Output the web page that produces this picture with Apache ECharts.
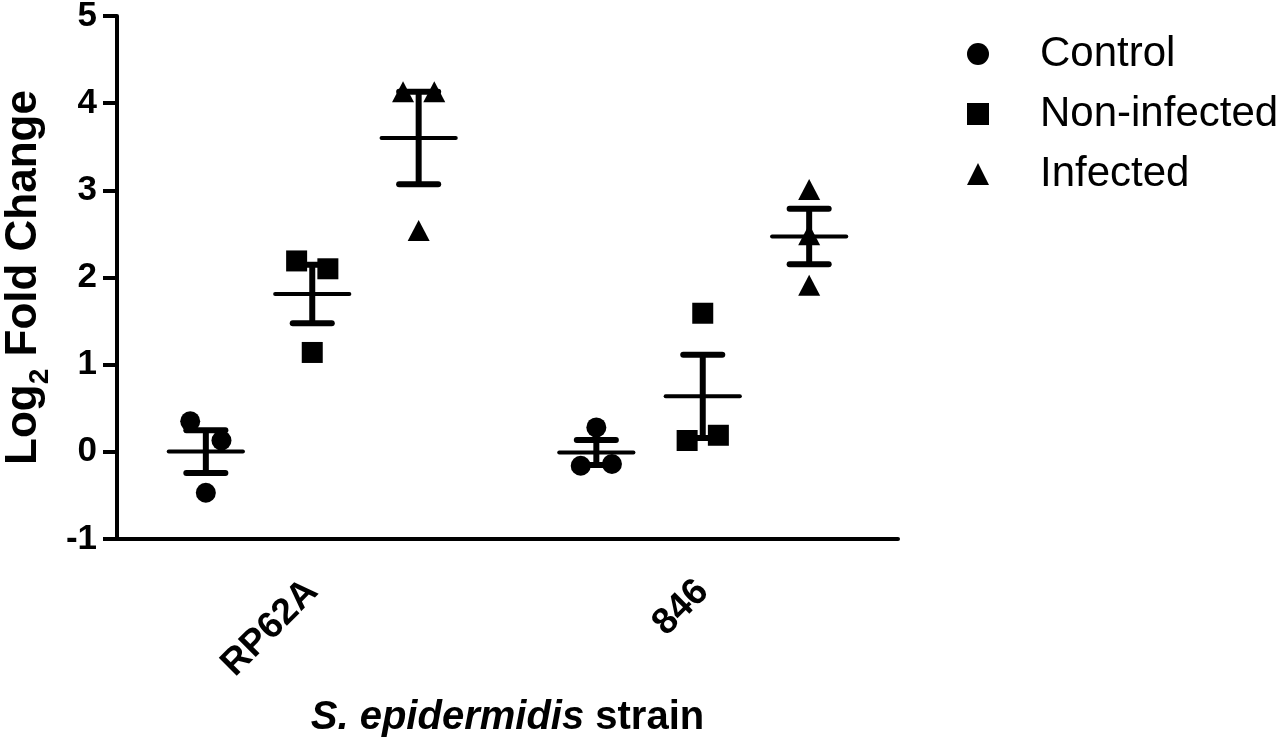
<!DOCTYPE html>
<html><head><meta charset="utf-8">
<script src="https://cdn.jsdelivr.net/npm/echarts@6/dist/echarts.min.js"></script>
<style>html,body{margin:0;padding:0;background:#fff}#c{width:1280px;height:743px}</style>
</head><body><div id="c"></div>
<script>
// ---- data ----
const categories = ['RP62A', '846'];
const groupNames = ['Control', 'Non-infected', 'Infected'];
const controlValues = [[0.35, 0.13, -0.47], [-0.16, 0.28, -0.14]];
const nonInfectedValues = [[2.19, 2.10, 1.14], [0.13, 1.59, 0.19]];
const infectedValues = [[4.13, 4.13, 2.54], [3.01, 2.49, 1.91]];
const controlJitter = [[-0.08, 0.08, 0], [-0.08, 0, 0.08]];
const nonInfectedJitter = [[-0.08, 0.08, 0], [-0.08, 0, 0.08]];
const infectedJitter = [[-0.08, 0.08, 0], [0, 0, 0]];
const groupOffsets = [-0.545, 0, 0.545];

const FONT = '"Liberation Sans", Arial, sans-serif';
const groupValues = [controlValues, nonInfectedValues, infectedValues];
const groupJitter = [controlJitter, nonInfectedJitter, infectedJitter];
const symbols = ['circle', 'rect', 'triangle'];
const symbolSizes = [20, 21, [22, 21]];

function catCenter(ci) { return ci * 2 + 1; }
function mean(a) { return a.reduce((s, v) => s + v, 0) / a.length; }
function sem(a) {
  const m = mean(a);
  const v = a.reduce((s, x) => s + (x - m) * (x - m), 0) / (a.length - 1);
  return Math.sqrt(v) / Math.sqrt(a.length);
}

const scatterSeries = groupNames.map((name, gi) => {
  const data = [];
  categories.forEach((c, ci) => {
    groupValues[gi][ci].forEach((v, k) => {
      data.push([catCenter(ci) + groupOffsets[gi] + groupJitter[gi][ci][k], v]);
    });
  });
  return {
    name, type: 'scatter', xAxisIndex: 1, yAxisIndex: 0,
    symbol: symbols[gi], symbolSize: symbolSizes[gi],
    itemStyle: { color: '#000', opacity: 1 },
    data, z: 3
  };
});

const errData = [];
categories.forEach((c, ci) => {
  groupNames.forEach((g, gi) => {
    const vals = groupValues[gi][ci];
    errData.push([catCenter(ci) + groupOffsets[gi], mean(vals), sem(vals)]);
  });
});

const errSeries = {
  name: 'mean ± SEM', type: 'custom', xAxisIndex: 1, yAxisIndex: 0,
  encode: { x: 0, y: 1 }, z: 4,
  renderItem(params, api) {
    const x = api.value(0), m = api.value(1), s = api.value(2);
    const pm = api.coord([x, m]), ph = api.coord([x, m + s]), pl = api.coord([x, m - s]);
    const hm = api.size([0.19, 0])[0], hc = api.size([0.1, 0])[0];
    const st = (w) => ({ stroke: '#000', lineWidth: w, lineCap: 'round' });
    return {
      type: 'group', children: [
        { type: 'line', shape: { x1: ph[0], y1: ph[1], x2: pl[0], y2: pl[1] }, style: { stroke: '#000', lineWidth: 6 } },
        { type: 'line', shape: { x1: ph[0] - hc, y1: ph[1], x2: ph[0] + hc, y2: ph[1] }, style: st(6) },
        { type: 'line', shape: { x1: pl[0] - hc, y1: pl[1], x2: pl[0] + hc, y2: pl[1] }, style: st(6) },
        { type: 'line', shape: { x1: pm[0] - hm, y1: pm[1], x2: pm[0] + hm, y2: pm[1] }, style: st(4) }
      ]
    };
  },
  data: errData
};

const chart = echarts.init(document.getElementById('c'), null, { renderer: 'canvas' });
chart.setOption({
  animation: false,
  backgroundColor: '#fff',
  grid: { left: 117, right: 382, top: 16, bottom: 204, containLabel: false, outerBoundsMode: 'none' },
  legend: {
    data: groupNames, orient: 'vertical', left: 962, top: 28,
    itemWidth: 22, itemHeight: 22, itemGap: 18,
    textStyle: { fontSize: 42, fontFamily: FONT, color: '#000', padding: [0, 0, 0, 46] }
  },
  xAxis: [{
    type: 'category', data: categories, boundaryGap: true,
    axisLine: { onZero: false, lineStyle: { color: '#000', width: 4 } },
    axisTick: { alignWithLabel: true, length: 16, lineStyle: { color: '#000', width: 4 } },
    axisLabel: { rotate: 45, fontSize: 37, fontWeight: 'bold', color: '#000', fontFamily: FONT, margin: 47 },
    splitLine: { show: false },
    name: '{i|S. epidermidis}{b| strain}', nameLocation: 'middle', nameGap: 159, nameMoveOverlap: false,
    nameTextStyle: {
      rich: {
        i: { fontSize: 40, fontWeight: 'bold', fontStyle: 'italic', fontFamily: FONT, color: '#000' },
        b: { fontSize: 40, fontWeight: 'bold', fontFamily: FONT, color: '#000' }
      }
    }
  }, {
    type: 'value', min: 0, max: 4, show: false
  }],
  yAxis: {
    type: 'value', min: -1, max: 5, interval: 1,
    axisLine: { show: true, onZero: false, lineStyle: { color: '#000', width: 4 } },
    axisTick: { show: true, length: 14, lineStyle: { color: '#000', width: 4 } },
    axisLabel: { fontSize: 35, fontWeight: 'bold', color: '#000', fontFamily: FONT, margin: 20 },
    splitLine: { show: false },
    name: '{b|Log}{s|2}{b| Fold Change}', nameLocation: 'middle', nameGap: 63, nameRotate: 90, nameMoveOverlap: false,
    nameTextStyle: {
      rich: {
        b: { fontSize: 44, fontWeight: 'bold', fontFamily: FONT, color: '#000', verticalAlign: 'top', lineHeight: 52 },
        s: { fontSize: 28, fontWeight: 'bold', fontFamily: FONT, color: '#000', verticalAlign: 'bottom', lineHeight: 52 }
      }
    }
  },
  series: [...scatterSeries, errSeries]
});
</script>
</body></html>
